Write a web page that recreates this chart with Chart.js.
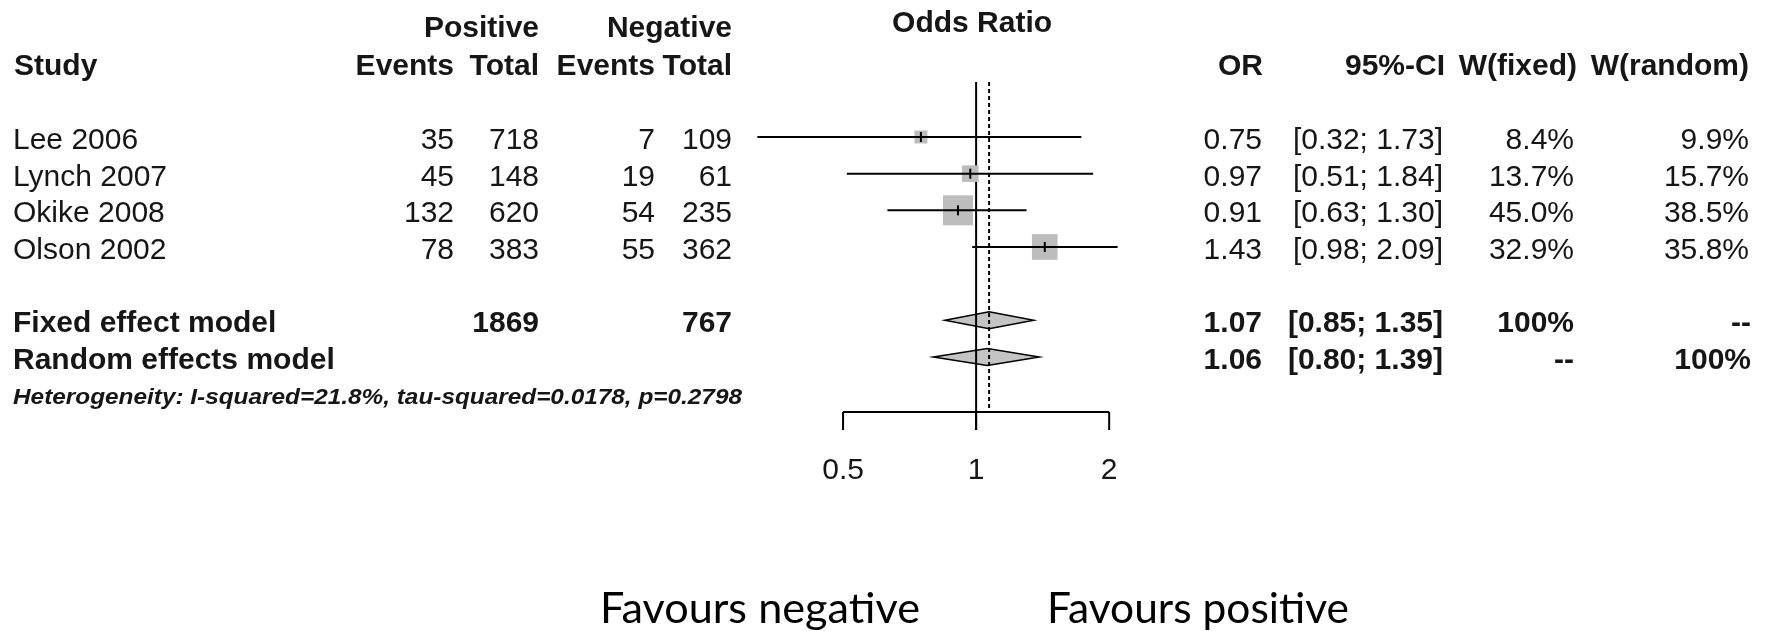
<!DOCTYPE html>
<html>
<head>
<meta charset="utf-8">
<title>Forest plot</title>
<script src="https://cdn.jsdelivr.net/npm/chart.js@4.4.0/dist/chart.umd.min.js"></script>
<style>
  html, body { margin: 0; padding: 0; background: #fff; }
  #wrap { width: 1769px; height: 631px; }
</style>
</head>
<body>
<div id="wrap"><canvas id="forest" width="1769" height="631"></canvas></div>
<script>
// study level data
var studies   = ['Lee 2006', 'Lynch 2007', 'Okike 2008', 'Olson 2002'];
var posEvents = [35, 45, 132, 78];
var posTotal  = [718, 148, 620, 383];
var negEvents = [7, 19, 54, 55];
var negTotal  = [109, 61, 235, 362];
var orValues  = [0.75, 0.97, 0.91, 1.43];
var ciLower   = [0.32, 0.51, 0.63, 0.98];
var ciUpper   = [1.73, 1.84, 1.30, 2.09];
var wFixed    = [8.4, 13.7, 45.0, 32.9];
var wRandom   = [9.9, 15.7, 38.5, 35.8];

// pooled estimates
var pooledNames = ['Fixed effect model', 'Random effects model'];
var pooledOR    = [1.07, 1.06];
var pooledLower = [0.85, 0.80];
var pooledUpper = [1.35, 1.39];
var pooledPosTotal = 1869;
var pooledNegTotal = 767;

var xTicks = [0.5, 1, 2];
var heterogeneity = 'Heterogeneity: I-squared=21.8%, tau-squared=0.0178, p=0.2798';

var SANS = "'Liberation Sans', Arial, sans-serif";
var BOLD = 'bold 30px ' + SANS;
var REG = '30px ' + SANS;
var INK = '#161616';

function pooledRow(k) { return studies.length + 1 + k; }

function text(ctx, s, x, y, align, font) {
    ctx.font = font;
    ctx.textAlign = align;
    ctx.fillText(s, x, y);
}

// draw text squeezed/stretched to a given width
function fitText(ctx, s, x, y, width, font) {
    ctx.font = font;
    ctx.textAlign = 'left';
    var w = ctx.measureText(s).width;
    ctx.save();
    ctx.translate(x, y);
    ctx.scale(width / w, 1);
    ctx.fillText(s, 0, 0);
    ctx.restore();
}

function pct(v) { return v.toFixed(1) + '%'; }
function ci(lo, hi) { return '[' + lo.toFixed(2) + '; ' + hi.toFixed(2) + ']'; }

var datasets = [];

// confidence interval whiskers
studies.forEach(function (s, i) {
    datasets.push({
        label: s + ' CI',
        data: [{x: ciLower[i], y: i}, {x: ciUpper[i], y: i}],
        showLine: true,
        borderColor: '#000',
        borderWidth: 2,
        pointRadius: 0,
        order: 0
    });
});

// weighted squares
datasets.push({
    label: 'weight',
    data: orValues.map(function (v, i) { return {x: v, y: i}; }),
    pointStyle: 'rect',
    pointRadius: function (c) { return 4.47 * Math.sqrt(wFixed[c.dataIndex]) / (2 * Math.SQRT1_2); },
    backgroundColor: '#bdbdbd',
    pointBorderWidth: 0,
    borderWidth: 0,
    order: 2
});

// point estimate ticks
datasets.push({
    label: 'estimate',
    data: orValues.map(function (v, i) { return {x: v, y: i}; }),
    pointStyle: 'line',
    pointRotation: 90,
    pointRadius: 5,
    pointBorderColor: '#000',
    pointBorderWidth: 2,
    order: 0
});

var forestPlugin = {
    id: 'forest',
    beforeDatasetsDraw: function (chart) {
        var ctx = chart.ctx, x = chart.scales.x, y = chart.scales.y;
        var top = chart.chartArea.top, bottom = chart.chartArea.bottom;
        ctx.save();
        // pooled diamonds
        pooledOR.forEach(function (est, k) {
            var cy = y.getPixelForValue(pooledRow(k));
            ctx.beginPath();
            ctx.moveTo(x.getPixelForValue(pooledLower[k]), cy);
            ctx.lineTo(x.getPixelForValue(est), cy - 8.5);
            ctx.lineTo(x.getPixelForValue(pooledUpper[k]), cy);
            ctx.lineTo(x.getPixelForValue(est), cy + 8.5);
            ctx.closePath();
            ctx.fillStyle = '#c4c4c4';
            ctx.fill();
            ctx.strokeStyle = '#000';
            ctx.lineWidth = 1.5;
            ctx.stroke();
        });
        // no effect line
        var x1 = x.getPixelForValue(1);
        ctx.strokeStyle = '#000';
        ctx.lineWidth = 2;
        ctx.beginPath();
        ctx.moveTo(x1, top);
        ctx.lineTo(x1, bottom + 18);
        ctx.stroke();
        // fixed effect estimate
        var xf = x.getPixelForValue(pooledOR[0]);
        ctx.setLineDash([4, 3]);
        ctx.beginPath();
        ctx.moveTo(xf, top);
        ctx.lineTo(xf, bottom);
        ctx.stroke();
        ctx.setLineDash([]);
        // axis
        ctx.beginPath();
        ctx.moveTo(x.getPixelForValue(xTicks[0]), bottom);
        ctx.lineTo(x.getPixelForValue(xTicks[xTicks.length - 1]), bottom);
        xTicks.forEach(function (t) {
            ctx.moveTo(x.getPixelForValue(t), bottom);
            ctx.lineTo(x.getPixelForValue(t), bottom + 18);
        });
        ctx.stroke();
        ctx.restore();
    },
    afterDraw: function (chart) {
        var ctx = chart.ctx, x = chart.scales.x, y = chart.scales.y;
        var bottom = chart.chartArea.bottom;
        ctx.save();
        ctx.fillStyle = INK;
        ctx.textBaseline = 'alphabetic';

        // column headers
        text(ctx, 'Positive', 539, 37, 'right', BOLD);
        text(ctx, 'Negative', 732, 37, 'right', BOLD);
        text(ctx, 'Odds Ratio', x.getPixelForValue(1) - 4, 32, 'center', BOLD);
        text(ctx, 'Study', 14, 75, 'left', BOLD);
        text(ctx, 'Events', 454, 75, 'right', BOLD);
        text(ctx, 'Total', 539, 75, 'right', BOLD);
        text(ctx, 'Events', 655, 75, 'right', BOLD);
        text(ctx, 'Total', 732, 75, 'right', BOLD);
        text(ctx, 'OR', 1263, 75, 'right', BOLD);
        text(ctx, '95%-CI', 1445, 75, 'right', BOLD);
        text(ctx, 'W(fixed)', 1577, 75, 'right', BOLD);
        text(ctx, 'W(random)', 1749, 75, 'right', BOLD);

        // study rows
        studies.forEach(function (s, i) {
            var by = y.getPixelForValue(i) + 12;
            text(ctx, s, 13, by, 'left', REG);
            text(ctx, String(posEvents[i]), 454, by, 'right', REG);
            text(ctx, String(posTotal[i]), 539, by, 'right', REG);
            text(ctx, String(negEvents[i]), 655, by, 'right', REG);
            text(ctx, String(negTotal[i]), 732, by, 'right', REG);
            text(ctx, orValues[i].toFixed(2), 1262, by, 'right', REG);
            text(ctx, ci(ciLower[i], ciUpper[i]), 1443, by, 'right', REG);
            text(ctx, pct(wFixed[i]), 1574, by, 'right', REG);
            text(ctx, pct(wRandom[i]), 1749, by, 'right', REG);
        });

        // pooled rows
        pooledNames.forEach(function (s, k) {
            var by = y.getPixelForValue(pooledRow(k)) + 12;
            text(ctx, s, 13, by, 'left', BOLD);
            text(ctx, pooledOR[k].toFixed(2), 1262, by, 'right', BOLD);
            text(ctx, ci(pooledLower[k], pooledUpper[k]), 1443, by, 'right', BOLD);
            text(ctx, k === 0 ? '100%' : '--', 1574, by, 'right', BOLD);
            text(ctx, k === 1 ? '100%' : '--', 1751, by, 'right', BOLD);
        });
        var fy = y.getPixelForValue(pooledRow(0)) + 12;
        text(ctx, String(pooledPosTotal), 539, fy, 'right', BOLD);
        text(ctx, String(pooledNegTotal), 732, fy, 'right', BOLD);

        fitText(ctx, heterogeneity, 13, 404, 729, 'italic bold 22px ' + SANS);

        // tick labels
        xTicks.forEach(function (t) {
            text(ctx, String(t), x.getPixelForValue(t), 479, 'center', REG);
        });

        // direction labels
        ctx.fillStyle = '#000';
        fitText(ctx, 'Favours negative', 600, 623, 320, "42px Lato, 'Noto Sans', sans-serif");
        fitText(ctx, 'Favours positive', 1047, 623, 302, "42px Lato, 'Noto Sans', sans-serif");
        ctx.restore();
    }
};

var chart = new Chart(document.getElementById('forest'), {
    type: 'scatter',
    data: { datasets: datasets },
    options: {
        responsive: false,
        devicePixelRatio: 1,
        animation: false,
        events: [],
        layout: { padding: { left: 745, right: 633, top: 82, bottom: 219 } },
        plugins: { legend: { display: false }, tooltip: { enabled: false } },
        scales: {
            x: { type: 'logarithmic', display: false, bounds: 'data', min: 0.3, max: 2.3 },
            y: { type: 'linear', display: false, reverse: true, min: -1.5, max: 7.5 }
        },
        elements: { point: { hitRadius: 0 } }
    },
    plugins: [forestPlugin]
});
</script>
</body>
</html>
